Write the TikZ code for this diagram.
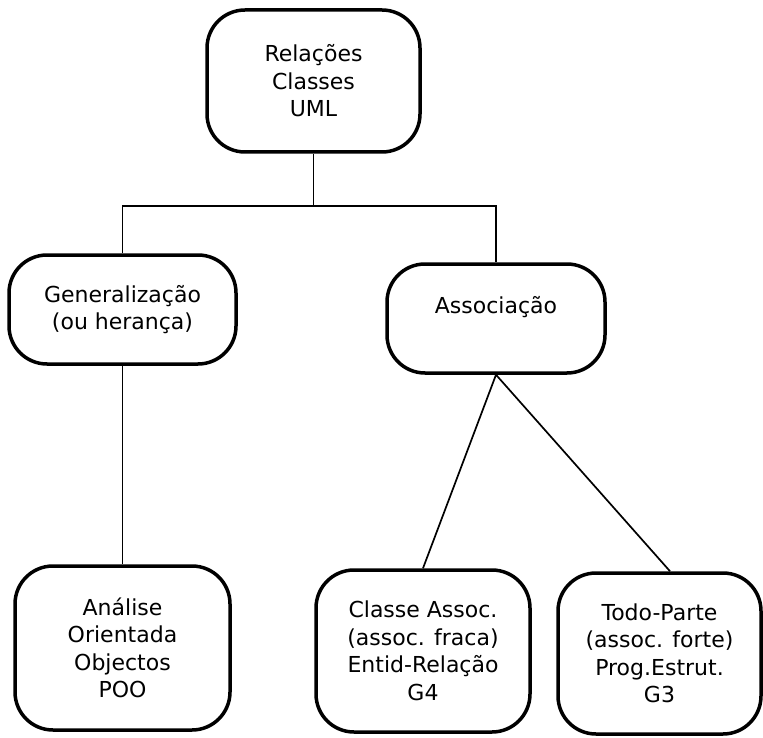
\documentclass[tikz,border=0pt]{standalone}
\usepackage{fontspec}
\setmainfont{DejaVu Sans}

\begin{document}
\begin{tikzpicture}[x=1pt,y=-1pt,
  caixa/.style={draw,line width=3.5pt,rounded corners=38pt,align=center,
    inner sep=0pt,font=\fontsize{22}{27.5}\selectfont},
  liga/.style={line width=1.7pt}]
\useasboundingbox (0,0) rectangle (763,738);

%root
\node[caixa,minimum width=213pt,minimum height=142pt] (rel) at (313.5,81) {Relações\\Classes\\UML};

%second level
\node[caixa,minimum width=227pt,minimum height=109pt] (gen) at (122.5,309.5) {Generalização\\(ou herança)};
\node[caixa,minimum width=218pt,minimum height=109pt] (assoc) at (496,318.5) {Associação\\ {}};

%leaves
\node[caixa,minimum width=215pt,minimum height=164pt] (anal) at (122.5,648) {Análise\\Orientada\\Objectos\\POO};
\node[caixa,minimum width=214pt,minimum height=162pt] (classe) at (423,651) {Classe Assoc.\\(assoc. fraca)\\Entid-Relação\\G4};
\node[caixa,minimum width=203pt,minimum height=161pt] (todo) at (659.5,653.5) {Todo-Parte\\(assoc. forte)\\Prog.Estrut.\\G3};

%connectors
\coordinate (juncao) at (313.5,206);
\draw[liga] (rel) -- (juncao);
\draw[liga] (gen.north) |- (juncao) -| (assoc.north);
\draw[liga] (gen.south) -- (anal.north);
\draw[liga] (classe.north) -- (assoc.south) -- ([xshift=10.5pt]todo.north);

\end{tikzpicture}
\end{document}
